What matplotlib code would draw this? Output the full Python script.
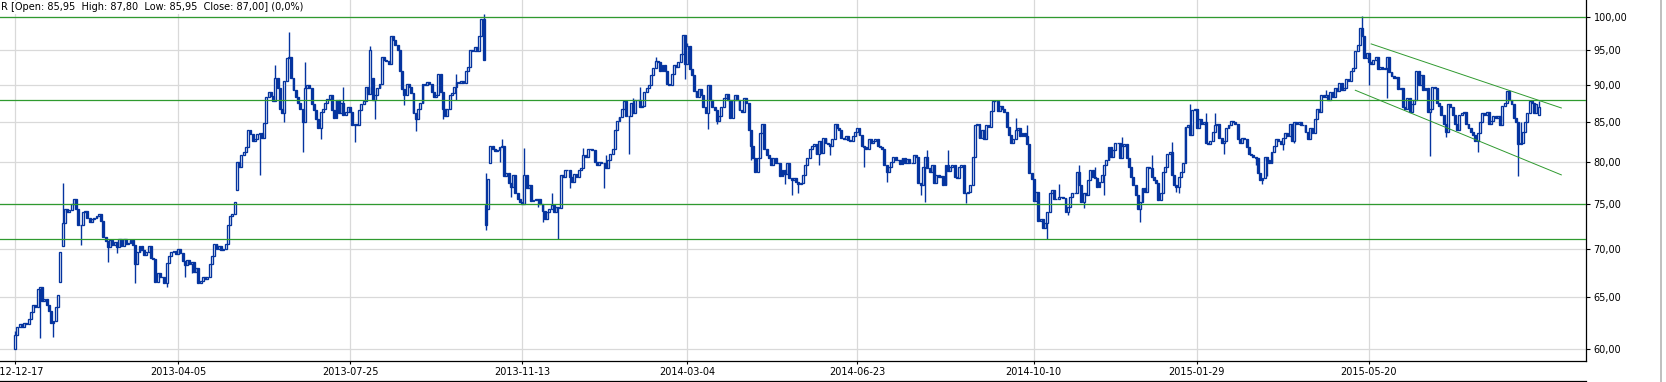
import matplotlib
matplotlib.use("Agg")
import matplotlib.pyplot as plt
from matplotlib.lines import Line2D
from matplotlib.ticker import FixedLocator, FuncFormatter, NullLocator
import numpy as np
import pandas as pd

# sesje GPW: dni robocze bez swiat gieldowych
holidays = ["2012-12-24", "2012-12-25", "2012-12-26", "2012-12-31",
            "2013-01-01", "2013-03-29", "2013-04-01", "2013-05-01", "2013-05-03",
            "2013-05-30", "2013-08-15", "2013-11-01", "2013-11-11",
            "2013-12-24", "2013-12-25", "2013-12-26", "2013-12-31",
            "2014-01-01", "2014-01-06", "2014-04-18", "2014-04-21", "2014-05-01",
            "2014-06-19", "2014-08-15", "2014-11-11",
            "2014-12-24", "2014-12-25", "2014-12-26", "2014-12-31",
            "2015-01-01", "2015-01-06", "2015-04-03", "2015-04-06", "2015-05-01",
            "2015-06-04"]
first_session = "2012-12-17"

# kursy zamkniecia, sesja po sesji
closes = [
    61.3, 62.0, 62.3, 62.0, 62.4, 62.3, 62.8, 63.5, 64.2, 64.0,
    65.8, 66.0, 64.6, 64.8, 64.2, 63.6, 62.4, 62.6, 64.0, 65.2,
    69.6, 72.8, 74.4, 74.0, 74.3, 75.0, 75.5, 74.4, 72.6, 72.6,
    74.0, 74.2, 73.4, 72.9, 73.2, 73.4, 73.6, 73.8, 73.0, 71.3,
    70.8, 70.2, 70.9, 70.4, 70.7, 70.2, 71.0, 70.3, 71.0, 70.5,
    70.6, 70.9, 70.4, 68.4, 69.6, 70.3, 69.8, 69.3, 69.6, 70.3,
    69.0, 68.9, 66.5, 67.4, 67.0, 67.0, 66.4, 68.5, 69.2, 69.6,
    69.7, 69.4, 70.0, 69.5, 68.7, 68.3, 68.8, 68.4, 68.6, 67.5,
    67.9, 66.4, 66.6, 67.0, 66.8, 67.0, 68.4, 69.2, 70.5, 70.0,
    70.3, 69.8, 70.0, 70.5, 72.6, 73.6, 73.8, 75.2, 80.0, 79.4,
    80.8, 81.2, 81.8, 84.0, 83.5, 82.6, 82.8, 83.5, 83.6, 83.0,
    84.9, 88.4, 89.0, 88.5, 87.9, 91.0, 89.6, 86.8, 86.2, 90.6,
    93.8, 94.0, 91.0, 89.4, 88.4, 87.6, 86.7, 85.0, 89.6, 90.0,
    89.6, 87.4, 86.6, 85.4, 84.2, 86.4, 86.8, 87.6, 88.1, 88.6,
    86.6, 85.6, 88.0, 86.2, 87.6, 86.0, 86.4, 87.0, 86.4, 84.6,
    84.8, 84.6, 86.6, 87.4, 87.9, 89.8, 88.8, 95.0, 88.0, 88.6,
    89.6, 90.2, 94.0, 93.6, 93.4, 93.0, 97.0, 96.5, 95.8, 95.0,
    92.0, 89.5, 88.6, 90.2, 89.7, 88.9, 86.2, 85.4, 86.8, 87.6,
    90.2, 90.0, 90.4, 90.1, 89.0, 88.4, 88.7, 91.6, 89.0, 86.8,
    85.8, 86.7, 88.6, 88.9, 89.8, 90.5, 90.3, 90.6, 90.3, 92.0,
    92.5, 95.0, 94.8, 95.4, 94.8, 97.0, 99.6, 93.6, 72.6, 77.9,
    82.0, 81.6, 81.3, 81.4, 81.8, 82.0, 78.3, 78.6, 77.4, 77.0,
    78.4, 76.3, 75.6, 75.2, 75.0, 78.4, 76.8, 77.2, 75.3, 75.4,
    75.6, 75.5, 75.0, 74.2, 73.2, 74.0, 74.4, 74.8, 74.0, 74.6,
    74.5, 78.4, 78.2, 79.0, 79.0, 78.2, 77.6, 78.5, 78.2, 79.0,
    79.2, 80.8, 80.6, 81.6, 81.6, 81.4, 80.0, 79.6, 80.0, 79.8,
    79.8, 79.2, 80.2, 81.0, 81.6, 84.0, 85.2, 85.7, 86.8, 87.8,
    85.8, 85.8, 87.6, 86.2, 88.0, 88.0, 87.0, 87.2, 89.0, 89.6,
    90.0, 91.4, 92.4, 93.4, 93.2, 92.0, 92.8, 92.0, 90.2, 90.0,
    91.6, 92.9, 92.6, 93.2, 94.4, 97.2, 93.0, 95.6, 92.2, 91.4,
    89.2, 88.4, 89.5, 88.6, 87.0, 86.2, 90.0, 88.0, 87.0, 86.6,
    85.2, 85.8, 87.0, 88.3, 88.8, 88.0, 85.6, 88.0, 88.6, 88.0,
    86.6, 86.4, 88.3, 87.6, 84.0, 82.0, 80.4, 78.8, 80.4, 83.6,
    84.8, 81.6, 80.8, 80.5, 79.6, 80.4, 79.8, 79.9, 78.3, 79.0,
    78.5, 79.8, 78.0, 77.8, 78.0, 77.5, 77.3, 77.4, 78.4, 79.6,
    80.4, 81.6, 82.0, 82.2, 81.0, 82.6, 81.1, 83.0, 82.4, 82.2,
    82.0, 82.8, 84.8, 84.2, 84.0, 83.0, 82.8, 83.2, 82.7, 82.6,
    83.2, 83.8, 84.2, 83.4, 82.0, 81.8, 81.6, 82.8, 82.4, 82.6,
    82.8, 82.0, 81.8, 81.6, 79.6, 78.8, 79.4, 80.0, 80.6, 80.2,
    80.2, 79.7, 80.4, 79.8, 80.3, 79.8, 79.8, 80.8, 80.6, 77.4,
    77.2, 79.3, 80.6, 79.2, 78.8, 79.6, 77.4, 78.4, 78.2, 78.3,
    77.2, 79.6, 78.9, 79.4, 79.6, 78.2, 78.0, 79.4, 79.6, 76.2,
    76.2, 76.4, 77.2, 80.6, 84.6, 84.8, 83.0, 84.0, 82.8, 84.6,
    84.4, 86.5, 87.9, 87.8, 86.5, 87.2, 86.8, 86.4, 84.4, 83.4,
    82.3, 82.8, 84.0, 84.2, 83.2, 83.6, 83.2, 82.2, 78.6, 77.9,
    75.3, 76.4, 73.0, 73.2, 72.2, 72.8, 74.0, 76.2, 76.6, 75.6,
    75.6, 75.8, 75.8, 75.7, 74.0, 74.6, 75.8, 76.2, 76.3, 78.8,
    77.2, 75.2, 76.2, 76.0, 77.8, 79.0, 78.2, 78.0, 77.0, 77.6,
    78.4, 79.6, 80.2, 81.8, 80.6, 81.4, 82.3, 82.4, 80.4, 82.0,
    82.2, 80.4, 79.4, 78.2, 77.2, 76.0, 74.4, 75.2, 76.8, 76.4,
    79.4, 79.2, 78.2, 77.8, 77.4, 75.4, 76.2, 78.8, 79.4, 81.0,
    81.2, 78.4, 77.2, 77.0, 78.2, 78.8, 79.8, 84.4, 84.6, 83.4,
    86.6, 86.8, 84.2, 85.4, 84.8, 85.0, 82.4, 82.2, 82.6, 83.8,
    84.6, 84.8, 83.0, 82.4, 82.6, 84.2, 84.6, 85.2, 85.0, 84.8,
    82.8, 82.3, 83.0, 82.8, 81.8, 81.0, 80.8, 80.6, 80.4, 78.6,
    77.8, 78.0, 80.6, 80.2, 79.8, 81.2, 82.0, 82.8, 82.6, 82.2,
    83.0, 83.6, 83.2, 84.8, 82.6, 85.0, 84.8, 85.0, 84.6,
    84.6, 83.8, 82.8, 84.2, 83.6, 85.4, 86.8, 86.4, 88.6, 88.4,
    88.6, 88.0, 89.0, 88.4, 89.6, 89.2, 90.3, 89.4, 89.6, 90.8,
    90.6, 92.0, 92.4, 94.8, 95.8, 98.2, 97.0, 93.8, 94.6, 93.2,
    93.0, 93.6, 94.0, 92.2, 92.5, 92.2, 92.4, 94.0, 91.8, 91.3,
    91.0, 91.2, 89.5, 89.6, 87.0, 86.8, 88.2, 86.4, 87.4, 88.0,
    92.0, 90.0, 91.4, 89.4, 89.6, 86.4, 86.8, 89.8, 89.6, 87.6,
    87.2, 86.0, 84.8, 83.8, 87.4, 87.0, 86.0, 84.8, 84.0, 86.0,
    86.2, 86.4, 84.8, 84.2, 83.8, 83.4, 82.6, 83.6, 85.0, 86.2,
    86.0, 86.4, 84.8, 85.2, 85.8, 85.6, 85.8, 84.6, 87.2, 87.6,
    89.2, 88.0, 87.4, 85.6, 85.0, 82.2, 82.4, 83.8, 85.0, 86.2,
    87.8, 87.6, 86.2, 87.4, 87.0,
]

# otwarcia z luka (reszta sesji otwiera sie po poprzednim zamknieciu)
gap_opens = {0: 60.0, 20: 66.5, 21: 70.3, 98: 76.6, 158: 91.0,
             208: 74.8, 209: 74.4, 210: 79.8, 673: 85.95}

# wyrazne knoty
wick_highs = {0: 61.7, 21: 77.4, 115: 92.8, 121: 97.7, 128: 93.3, 145: 89.8,
              157: 95.6, 195: 91.6, 207: 100.4, 208: 78.6, 215: 82.8,
              225: 81.7, 237: 76.2, 251: 81.7, 261: 80.8, 273: 88.3,
              276: 89.8, 283: 94.0, 297: 96.1, 403: 81.5, 412: 81.5,
              442: 85.6, 444: 82.3, 447: 84.6, 461: 77.3, 470: 79.6,
              477: 79.4, 489: 83.1, 502: 80.8, 511: 82.5, 519: 87.4,
              526: 86.2, 530: 86.2, 579: 89.3, 595: 100.1, 665: 85.1,
              673: 87.8}
wick_lows = {11: 61.0, 17: 61.1, 29: 70.4, 41: 68.6, 45: 69.5, 53: 66.4,
             67: 66.0, 75: 67.0, 78: 67.4, 108: 78.4, 119: 85.1, 127: 81.2,
             135: 82.9, 150: 82.5, 159: 85.5, 172: 87.3, 177: 83.9,
             189: 85.5, 195: 88.0, 208: 72.0, 214: 80.0, 219: 75.8,
             231: 74.6, 233: 72.9, 240: 71.0, 245: 76.8, 260: 76.8,
             271: 81.0, 296: 90.9, 306: 84.1, 310: 84.8, 325: 80.2,
             340: 77.3, 343: 76.0, 346: 76.2, 355: 79.6, 360: 80.8,
             375: 79.4, 385: 77.6, 400: 76.0, 402: 75.2, 420: 75.1,
             450: 77.3, 456: 71.0, 465: 73.7, 472: 74.5, 481: 76.0,
             497: 72.9, 513: 76.4, 514: 76.2, 534: 81.0, 548: 79.6,
             551: 77.3, 553: 78.3, 560: 81.5, 565: 82.3, 598: 90.0,
             606: 88.2, 625: 80.7, 632: 83.1, 646: 81.2, 664: 78.3}

tick_dates = ["2012-12-17", "2013-04-05", "2013-07-25", "2013-11-13", "2014-03-04",
              "2014-06-23", "2014-10-10", "2015-01-29", "2015-05-20"]
y_ticks = [60, 65, 70, 75, 80, 85, 90, 95, 100]

# linie poziomow i kanal spadkowy
levels = [100, 88, 75, 71]
channel_upper_dates = ["2015-05-21", "2015-09-17"]
channel_upper_prices = [95.9, 86.9]
channel_lower_dates = ["2015-05-12", "2015-09-17"]
channel_lower_prices = [89.3, 78.4]

header = "R [Open: 85,95  High: 87,80  Low: 85,95  Close: 87,00] (0,0%)"

BLUE = "#05349f"
GREEN = "#2f9a2f"
GRID = "#d9d9d9"

sessions = pd.bdate_range(first_session, "2015-12-31", freq="C", holidays=holidays)


def pos(d):
    return sessions.get_loc(pd.Timestamp(d))


closes = np.array(closes)
n = len(closes)
x = np.arange(n)
opens = np.r_[closes[0], closes[:-1]]
for i, v in gap_opens.items():
    opens[i] = v
highs = np.maximum(opens, closes)
lows = np.minimum(opens, closes)
for i, v in wick_highs.items():
    highs[i] = max(highs[i], v)
for i, v in wick_lows.items():
    lows[i] = min(lows[i], v)
up = closes >= opens

W, H = 1666, 382
fig = plt.figure(figsize=(W / 100, H / 100), dpi=100)
ax = fig.add_axes([0, 21 / H, 1586 / W, 361 / H])

ax.set_yscale("log")
ax.set_ylim(58.88, 102.6)
ax.set_xlim(-6.63, 693.9)

ax.vlines(x, lows, highs, color=BLUE, lw=1.0, zorder=3)
ax.bar(x[up], (closes - opens)[up], bottom=opens[up], width=0.85,
       facecolor="white", edgecolor=BLUE, lw=0.95, zorder=4)
ax.bar(x[~up], (opens - closes)[~up], bottom=closes[~up], width=0.85,
       facecolor=BLUE, edgecolor=BLUE, lw=0.95, zorder=4)

for lv in levels:
    ax.axhline(lv, color=GREEN, lw=0.9, zorder=5)
ax.plot([pos(d) for d in channel_upper_dates], channel_upper_prices, color=GREEN, lw=0.7, zorder=5)
ax.plot([pos(d) for d in channel_lower_dates], channel_lower_prices, color=GREEN, lw=0.7, zorder=5)

# osie
ax.yaxis.tick_right()
ax.yaxis.set_major_locator(FixedLocator(y_ticks))
ax.yaxis.set_minor_locator(NullLocator())
ax.yaxis.set_major_formatter(FuncFormatter(lambda v, p: f"{v:.2f}".replace(".", ",")))
ax.xaxis.set_major_locator(FixedLocator([pos(d) for d in tick_dates]))
ax.set_xticklabels(tick_dates)
ax.tick_params(axis="y", which="major", length=3, width=0.8, pad=2.5, labelsize=7, direction="out")
ax.tick_params(axis="x", which="major", length=2.5, width=0.8, pad=2, labelsize=7, direction="out")

ax.grid(True, color=GRID, lw=0.9)
ax.set_axisbelow(True)
for s in ("left", "top"):
    ax.spines[s].set_visible(False)
for s in ("right", "bottom"):
    ax.spines[s].set_linewidth(0.9)

ax.text(0.0006, 1 - 7.5 / 361, header, transform=ax.transAxes, fontsize=7,
        va="center", ha="left", zorder=6,
        bbox=dict(facecolor="white", edgecolor="none", pad=1.2))

# ramki okna
fig.add_artist(Line2D([0, 1586 / W], [1.5 / H, 1.5 / H], color="black", lw=0.9,
                      transform=fig.transFigure))
fig.add_artist(Line2D([1661 / W, 1661 / W], [0, 1], color="#b4b4b4", lw=1.2,
                      transform=fig.transFigure))

fig.savefig("out.png", dpi=100)
plt.close(fig)
